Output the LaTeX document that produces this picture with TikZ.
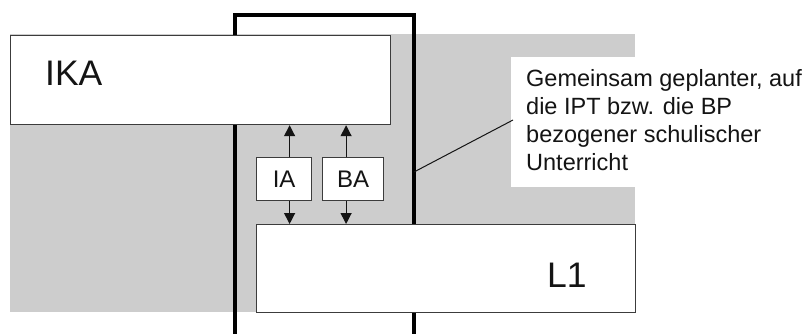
\documentclass[tikz,border=0pt]{standalone}
\usepackage{fontspec}
\setmainfont{Liberation Sans}
\usetikzlibrary{arrows.meta}
\definecolor{areagrey}{HTML}{CDCDCD}
\definecolor{edgegrey}{HTML}{3C3C3C}
\definecolor{inkcol}{HTML}{141414}
\tikzset{
  box/.style={draw=edgegrey, line width=1.2pt, fill=white, inner sep=0pt, anchor=north west},
  smallbox/.style={box, font=\fontsize{24}{28}\selectfont, text=inkcol},
  biglabel/.style={anchor=west, inner sep=0pt, text=inkcol, font=\fontsize{35.5}{40}\selectfont},
  arr/.style={line width=1.2pt, draw=inkcol, -{Triangle[length=11pt,width=11pt]}},
}
\begin{document}
\begin{tikzpicture}[x=1pt,y=-1pt]
\useasboundingbox (0,0) rectangle (808,333);
\begin{scope}
\clip (0,0) rectangle (808,333);
% shaded background area
\fill[areagrey] (10,34) rectangle (635,312);
% white panel behind the note
\fill[white] (511,57) rectangle (808,187);
% heavy frame
\node[draw=black, line width=4.2pt, inner sep=0pt, anchor=north west,
      minimum width=179pt, minimum height=323pt] (frame) at (233,13) {};
\end{scope}
% main boxes
\node[box, minimum width=380pt, minimum height=89pt] (ika) at (10,35) {};
\node[box, minimum width=379pt, minimum height=88pt] (lone) at (256,224) {};
\node[biglabel] (ikatext) at (45,73) {IKA};
\node[biglabel] (lonetext) at (547,275) {L1};
% small boxes
\node[smallbox, minimum width=55pt, minimum height=43pt] (ia) at (256,157) {IA};
\node[smallbox, minimum width=61pt, minimum height=43pt] (ba) at (322,157) {BA};
% arrows
\coordinate (iat) at ([xshift=5.5pt]ia.north);
\coordinate (iab) at ([xshift=5.5pt]ia.south);
\coordinate (bat) at ([xshift=-7pt]ba.north);
\coordinate (bab) at ([xshift=-7pt]ba.south);
\draw[arr] (iat) -- (iat |- ika.south);
\draw[arr] (bat) -- (bat |- ika.south);
\draw[arr] (iab) -- (iab |- lone.north);
\draw[arr] (bab) -- (bab |- lone.north);
% note with leader line
\node[anchor=north west, inner sep=0pt, align=left, text=inkcol,
      font=\fontsize{23.5}{28}\selectfont] (note) at (526,69.5)
  {Gemeinsam geplanter, auf\\die IPT bzw. die BP\\bezogener schulischer\\Unterricht};
\coordinate (lstart) at (414,172);
\coordinate (lend) at (513,120);
\draw[line width=1pt, inkcol] (lstart) -- (lend);
\end{tikzpicture}
\end{document}
